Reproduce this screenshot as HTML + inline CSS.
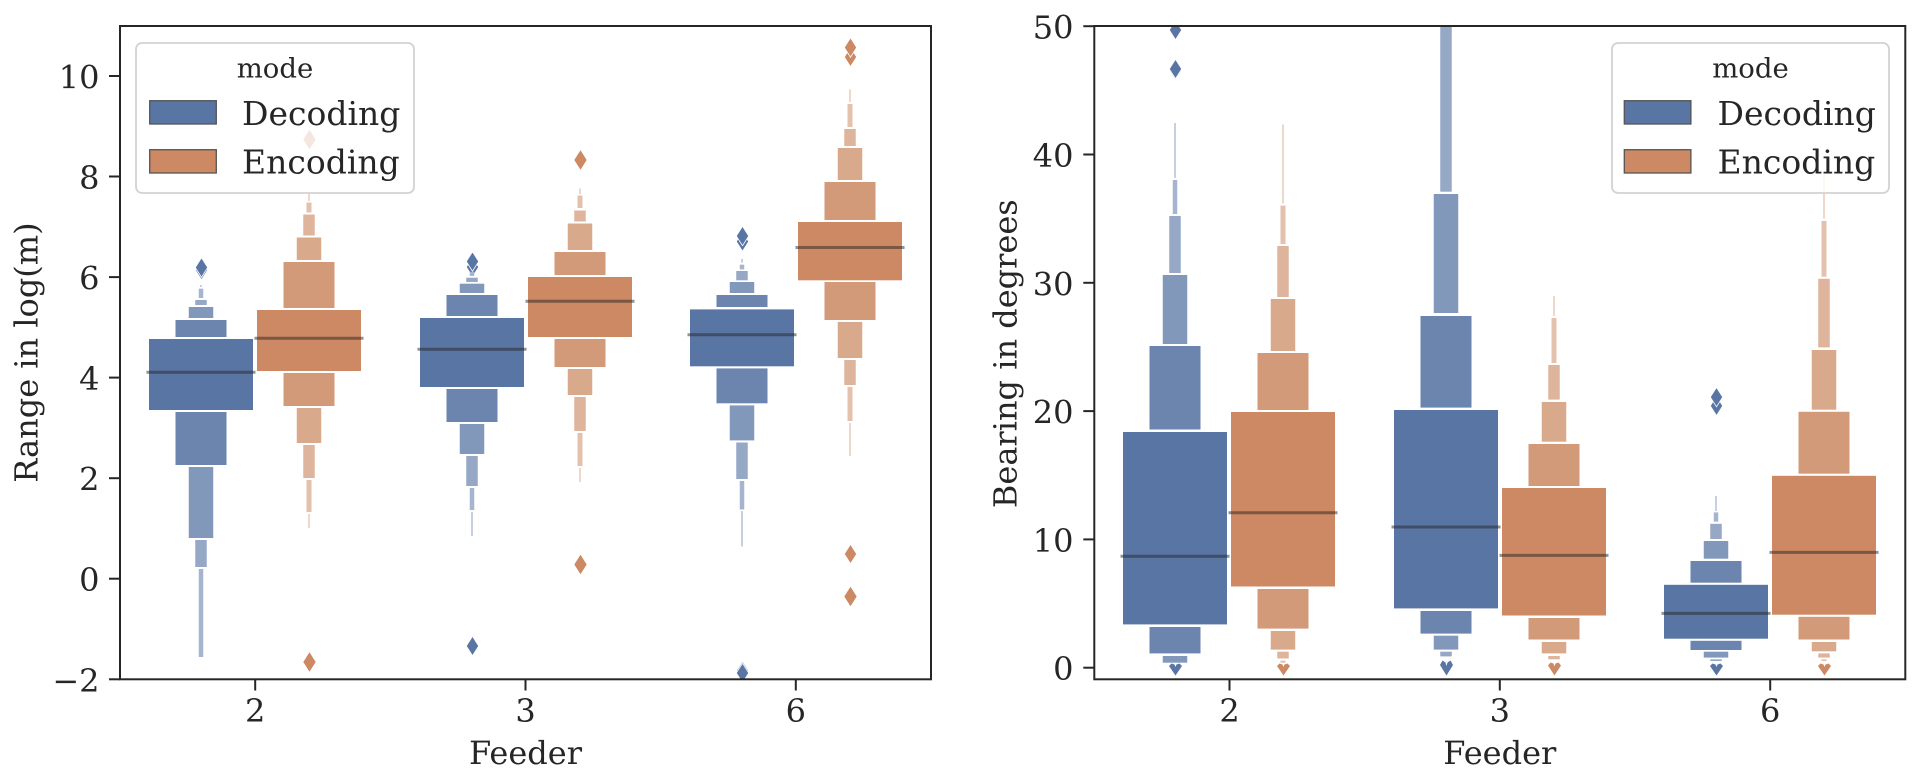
<!DOCTYPE html>
<html><head><meta charset="utf-8"><style>
html,body{margin:0;padding:0;background:#fff;}
svg{display:block;}
text{font-family:"DejaVu Serif","Liberation Serif",serif;fill:#262626;}
</style></head><body>
<svg width="1925" height="782" viewBox="0 0 1925 782" xmlns="http://www.w3.org/2000/svg">
<defs>
<clipPath id="cl"><rect x="120" y="26" width="811" height="653.3"/></clipPath>
<clipPath id="cr"><rect x="1094.3" y="26" width="811" height="653.3"/></clipPath>
</defs>
<rect width="1925" height="782" fill="#fff"/>

<!-- LEFT AXES DATA -->
<g clip-path="url(#cl)">
<!-- G1 F2 Decoding -->
<g>
<rect x="200.25" y="285" width="1.5" height="2" fill="#b3c0d8"/>
<rect x="198.75" y="288.7" width="4.5" height="9.3" fill="#a5b4cf"/>
<rect x="195.25" y="300" width="11.5" height="5" fill="#96a8c6"/>
<rect x="188.75" y="307" width="24.5" height="11" fill="#8298bb"/>
<rect x="175.5" y="320" width="51" height="17" fill="#6b85ae"/>
<rect x="149" y="339" width="104" height="71" fill="#5875a4"/>
<rect x="175.5" y="412" width="51" height="53" fill="#6b85ae"/>
<rect x="188.75" y="467" width="24.5" height="71" fill="#8298bb"/>
<rect x="195.25" y="540" width="11.5" height="27" fill="#96a8c6"/>
<rect x="198.75" y="569" width="4.5" height="88" fill="#a5b4cf"/>
<line x1="146.5" y1="372.3" x2="255.5" y2="372.3" stroke="rgba(38,38,38,0.5)" stroke-width="3"/>
<polygon points="201.5,260.3 207.7,270 201.5,279.7 195.3,270" fill="#5875a4" stroke="#fff" stroke-width="0.8"/>
<polygon points="201.5,257.8 207.7,267.5 201.5,277.2 195.3,267.5" fill="#5875a4" stroke="#fff" stroke-width="0.8"/>
</g>
<!-- G2 F2 Encoding -->
<g>
<polygon points="309.5,129.8 315.7,139.5 309.5,149.2 303.3,139.5" fill="#cd8963"/>
<rect x="308.25" y="192" width="1.5" height="9" fill="#e8cbbb"/>
<rect x="306.5" y="202.5" width="5" height="10" fill="#e4c1ac"/>
<rect x="303.25" y="214.5" width="11.5" height="21" fill="#dfb49c"/>
<rect x="296.75" y="237.5" width="24.5" height="22.5" fill="#d9a98c"/>
<rect x="283.5" y="262" width="51" height="46" fill="#d39a79"/>
<rect x="257" y="310" width="104" height="61" fill="#cd8963"/>
<rect x="283.5" y="373" width="51" height="33" fill="#d39a79"/>
<rect x="296.75" y="408" width="24.5" height="35" fill="#d9a98c"/>
<rect x="303.25" y="445" width="11.5" height="33" fill="#dfb49c"/>
<rect x="306.5" y="480" width="5" height="32" fill="#e4c1ac"/>
<rect x="308.25" y="514" width="1.5" height="14" fill="#e8cbbb"/>
<line x1="254.5" y1="338.3" x2="363.5" y2="338.3" stroke="rgba(38,38,38,0.5)" stroke-width="3"/>
<polygon points="309.5,652.3 315.7,662 309.5,671.7 303.3,662" fill="#cd8963"/>
</g>
<!-- G3 F3 Decoding -->
<g>
<polygon points="472.5,257.3 478.7,267 472.5,276.7 466.3,267" fill="#5875a4" stroke="#fff" stroke-width="0.8"/>
<polygon points="472.5,251.8 478.7,261.5 472.5,271.2 466.3,261.5" fill="#5875a4" stroke="#fff" stroke-width="0.8"/>
<rect x="469.75" y="271.7" width="4.5" height="4.3" fill="#a5b4cf"/>
<rect x="466.25" y="277.7" width="11.5" height="4.3" fill="#96a8c6"/>
<rect x="459.75" y="283.7" width="24.5" height="9.3" fill="#8298bb"/>
<rect x="446.5" y="295" width="51" height="21" fill="#6b85ae"/>
<rect x="420" y="318" width="104" height="69" fill="#5875a4"/>
<rect x="446.5" y="389" width="51" height="33" fill="#6b85ae"/>
<rect x="459.75" y="424" width="24.5" height="30" fill="#8298bb"/>
<rect x="466.25" y="456" width="11.5" height="30" fill="#96a8c6"/>
<rect x="469.75" y="488" width="4.5" height="22" fill="#a5b4cf"/>
<rect x="471.25" y="512" width="1.5" height="24" fill="#b3c0d8"/>
<line x1="417.5" y1="349.3" x2="526.5" y2="349.3" stroke="rgba(38,38,38,0.5)" stroke-width="3"/>
<polygon points="472.5,635.8 478.7,645.5 472.5,655.2 466.3,645.5" fill="#5875a4" stroke="#fff" stroke-width="0.8"/>
<polygon points="472.5,636.3 478.7,646 472.5,655.7 466.3,646" fill="#5875a4" stroke="#fff" stroke-width="0.8"/>
</g>
<!-- G4 F3 Encoding -->
<g>
<polygon points="580.5,150.3 586.7,160 580.5,169.7 574.3,160" fill="#cd8963"/>
<rect x="579.25" y="188.5" width="1.5" height="5.5" fill="#e8cbbb"/>
<rect x="577.5" y="195.5" width="5" height="12.5" fill="#e4c1ac"/>
<rect x="574.25" y="210.5" width="11.5" height="11" fill="#dfb49c"/>
<rect x="567.75" y="223.5" width="24.5" height="26.5" fill="#d9a98c"/>
<rect x="554.5" y="252" width="51" height="23" fill="#d39a79"/>
<rect x="528" y="277" width="104" height="60" fill="#cd8963"/>
<rect x="554.5" y="339" width="51" height="28" fill="#d39a79"/>
<rect x="567.75" y="369" width="24.5" height="26" fill="#d9a98c"/>
<rect x="574.25" y="397" width="11.5" height="34" fill="#dfb49c"/>
<rect x="577.5" y="433" width="5" height="33" fill="#e4c1ac"/>
<rect x="579.25" y="468" width="1.5" height="14" fill="#e8cbbb"/>
<line x1="525.5" y1="301.3" x2="634.5" y2="301.3" stroke="rgba(38,38,38,0.5)" stroke-width="3"/>
<polygon points="580.5,554.8 586.7,564.5 580.5,574.2 574.3,564.5" fill="#cd8963"/>
</g>
<!-- G5 F6 Decoding -->
<g>
<polygon points="742.5,231.8 748.7,241.5 742.5,251.2 736.3,241.5" fill="#5875a4" stroke="#fff" stroke-width="0.8"/>
<polygon points="742.5,226.3 748.7,236 742.5,245.7 736.3,236" fill="#5875a4" stroke="#fff" stroke-width="0.8"/>
<rect x="741.25" y="259" width="1.5" height="3.6" fill="#b3c0d8"/>
<rect x="739.75" y="264.7" width="4.5" height="4.7" fill="#a5b4cf"/>
<rect x="736.25" y="271" width="11.5" height="9.3" fill="#96a8c6"/>
<rect x="729.75" y="282" width="24.5" height="11" fill="#8298bb"/>
<rect x="716.5" y="295" width="51" height="12" fill="#6b85ae"/>
<rect x="690" y="309.4" width="104" height="56.9" fill="#5875a4"/>
<rect x="716.5" y="368.4" width="51" height="34.9" fill="#6b85ae"/>
<rect x="729.75" y="405.4" width="24.5" height="35" fill="#8298bb"/>
<rect x="736.25" y="442.5" width="11.5" height="36.5" fill="#96a8c6"/>
<rect x="739.75" y="481" width="4.5" height="28.5" fill="#a5b4cf"/>
<rect x="741.25" y="511" width="1.5" height="35.5" fill="#b3c0d8"/>
<line x1="687.5" y1="334.7" x2="796.5" y2="334.7" stroke="rgba(38,38,38,0.5)" stroke-width="3"/>
<polygon points="742.5,661.3 748.7,671 742.5,680.7 736.3,671" fill="#5875a4" stroke="#fff" stroke-width="0.8"/>
<polygon points="742.5,663.3 748.7,673 742.5,682.7 736.3,673" fill="#5875a4" stroke="#fff" stroke-width="0.8"/>
</g>
<!-- G6 F6 Encoding -->
<g>
<polygon points="850.5,47.3 856.7,57 850.5,66.7 844.3,57" fill="#cd8963" stroke="#fff" stroke-width="0.8"/>
<polygon points="850.5,37.8 856.7,47.5 850.5,57.2 844.3,47.5" fill="#cd8963" stroke="#fff" stroke-width="0.8"/>
<rect x="849.25" y="89.5" width="1.5" height="12.5" fill="#e8cbbb"/>
<rect x="847.5" y="104" width="5" height="23" fill="#e4c1ac"/>
<rect x="844.25" y="129" width="11.5" height="17" fill="#dfb49c"/>
<rect x="837.75" y="148" width="24.5" height="32" fill="#d9a98c"/>
<rect x="824.5" y="182" width="51" height="38" fill="#d39a79"/>
<rect x="798" y="222" width="104" height="58.3" fill="#cd8963"/>
<rect x="824.5" y="282" width="51" height="38" fill="#d39a79"/>
<rect x="837.75" y="322" width="24.5" height="36" fill="#d9a98c"/>
<rect x="844.25" y="360" width="11.5" height="25" fill="#dfb49c"/>
<rect x="847.5" y="387" width="5" height="34" fill="#e4c1ac"/>
<rect x="849.25" y="423" width="1.5" height="33" fill="#e8cbbb"/>
<line x1="795.5" y1="247.5" x2="904.5" y2="247.5" stroke="rgba(38,38,38,0.5)" stroke-width="3"/>
<polygon points="850.5,543.3 856.7,553 850.5,562.7 844.3,553" fill="#cd8963" stroke="#fff" stroke-width="0.8"/>
<polygon points="850.5,544.3 856.7,554 850.5,563.7 844.3,554" fill="#cd8963" stroke="#fff" stroke-width="0.8"/>
<polygon points="850.5,586.8 856.7,596.5 850.5,606.2 844.3,596.5" fill="#cd8963"/>
</g>
</g>

<!-- RIGHT AXES DATA -->
<g clip-path="url(#cr)">
<!-- G7 F2 Decoding -->
<g>
<polygon points="1175.5,20.3 1181.7,30 1175.5,39.7 1169.3,30" fill="#5875a4" stroke="#fff" stroke-width="0.8"/>
<polygon points="1175.5,60.8 1181.7,70.5 1175.5,80.2 1169.3,70.5" fill="#5875a4" stroke="#fff" stroke-width="0.8"/>
<polygon points="1175.5,59.3 1181.7,69 1175.5,78.7 1169.3,69" fill="#5875a4" stroke="#fff" stroke-width="0.8"/>
<rect x="1174.25" y="123" width="1.5" height="55" fill="#b3c0d8"/>
<rect x="1172.75" y="180" width="4.5" height="34" fill="#a5b4cf"/>
<rect x="1169.25" y="216" width="11.5" height="57" fill="#96a8c6"/>
<rect x="1162.75" y="275" width="24.5" height="69" fill="#8298bb"/>
<rect x="1149.5" y="346" width="51" height="83.5" fill="#6b85ae"/>
<rect x="1123" y="432" width="104" height="192.4" fill="#5875a4"/>
<rect x="1149.5" y="627" width="51" height="26.4" fill="#6b85ae"/>
<rect x="1162.75" y="656" width="24.5" height="6.7" fill="#8298bb"/>
<line x1="1120.5" y1="556.2" x2="1229.5" y2="556.2" stroke="rgba(38,38,38,0.5)" stroke-width="3"/>
<polygon points="1169,666 1171.5,663.5 1174.5,664.5 1175.5,667 1176.5,664.5 1179.5,663.5 1182,666 1175.5,675.5" fill="#5875a4"/>
</g>
<!-- G8 F2 Encoding -->
<g>
<rect x="1282.25" y="124.4" width="1.5" height="79.1" fill="#e8cbbb"/>
<rect x="1280.5" y="205.6" width="5" height="38.4" fill="#e4c1ac"/>
<rect x="1277.25" y="246" width="11.5" height="51" fill="#dfb49c"/>
<rect x="1270.75" y="299" width="24.5" height="52" fill="#d9a98c"/>
<rect x="1257.5" y="353" width="51" height="57" fill="#d39a79"/>
<rect x="1231" y="412" width="104" height="174.5" fill="#cd8963"/>
<rect x="1257.5" y="589" width="51" height="39.6" fill="#d39a79"/>
<rect x="1270.75" y="631" width="24.5" height="18.6" fill="#d9a98c"/>
<rect x="1277.25" y="651.7" width="11.5" height="6.8" fill="#dfb49c"/>
<rect x="1280.5" y="660.6" width="5" height="2.1" fill="#e4c1ac"/>
<line x1="1228.5" y1="512.8" x2="1337.5" y2="512.8" stroke="rgba(38,38,38,0.5)" stroke-width="3"/>
<polygon points="1277,666 1279.5,663.5 1282.5,664.5 1283.5,667 1284.5,664.5 1287.5,663.5 1290,666 1283.5,675.5" fill="#cd8963"/>
</g>
<!-- G9 F3 Decoding -->
<g>
<rect x="1440.25" y="20" width="11.5" height="171.7" fill="#96a8c6"/>
<rect x="1433.75" y="194" width="24.5" height="119" fill="#8298bb"/>
<rect x="1420.5" y="316" width="51" height="91.6" fill="#6b85ae"/>
<rect x="1394" y="410" width="104" height="198.4" fill="#5875a4"/>
<rect x="1420.5" y="611" width="51" height="22.6" fill="#6b85ae"/>
<rect x="1433.75" y="635.7" width="24.5" height="13.9" fill="#8298bb"/>
<rect x="1440.25" y="651.7" width="11.5" height="4.7" fill="#96a8c6"/>
<line x1="1391.5" y1="527" x2="1500.5" y2="527" stroke="rgba(38,38,38,0.5)" stroke-width="3"/>
<polygon points="1440,665 1442.5,660.5 1445.5,662.5 1446.5,666 1447.5,662.5 1450.5,660.5 1453,665 1446.5,675.5" fill="#5875a4"/>
</g>
<!-- G10 F3 Encoding -->
<g>
<rect x="1553.25" y="296" width="1.5" height="20" fill="#e8cbbb"/>
<rect x="1551.5" y="318" width="5" height="45" fill="#e4c1ac"/>
<rect x="1548.25" y="365" width="11.5" height="34.6" fill="#dfb49c"/>
<rect x="1541.75" y="402" width="24.5" height="39.7" fill="#d9a98c"/>
<rect x="1528.5" y="444" width="51" height="42" fill="#d39a79"/>
<rect x="1502" y="488" width="104" height="127.5" fill="#cd8963"/>
<rect x="1528.5" y="618" width="51" height="21.5" fill="#d39a79"/>
<rect x="1541.75" y="642" width="24.5" height="11.4" fill="#d9a98c"/>
<rect x="1548.25" y="656" width="11.5" height="3.3" fill="#dfb49c"/>
<line x1="1499.5" y1="555.4" x2="1608.5" y2="555.4" stroke="rgba(38,38,38,0.5)" stroke-width="3"/>
<polygon points="1548,665.5 1550.5,662.5 1553.5,663.5 1554.5,666.5 1555.5,663.5 1558.5,662.5 1561,665.5 1554.5,675.5" fill="#cd8963"/>
</g>
<!-- G11 F6 Decoding -->
<g>
<polygon points="1716.5,396.2 1722.7,405.9 1716.5,415.6 1710.3,405.9" fill="#5875a4" stroke="#fff" stroke-width="0.8"/>
<polygon points="1716.5,387.4 1722.7,397.1 1716.5,406.8 1710.3,397.1" fill="#5875a4" stroke="#fff" stroke-width="0.8"/>
<rect x="1715.25" y="496" width="1.5" height="15" fill="#b3c0d8"/>
<rect x="1713.75" y="512.4" width="4.5" height="9.3" fill="#a5b4cf"/>
<rect x="1710.25" y="523.8" width="11.5" height="15.2" fill="#96a8c6"/>
<rect x="1703.75" y="541" width="24.5" height="17.7" fill="#8298bb"/>
<rect x="1690.5" y="561" width="51" height="21.7" fill="#6b85ae"/>
<rect x="1664" y="584.8" width="104" height="53.9" fill="#5875a4"/>
<rect x="1690.5" y="640.8" width="51" height="9.2" fill="#6b85ae"/>
<rect x="1703.75" y="651.7" width="24.5" height="5.9" fill="#8298bb"/>
<rect x="1710.25" y="659.3" width="11.5" height="1.7" fill="#96a8c6"/>
<line x1="1661.5" y1="613.4" x2="1770.5" y2="613.4" stroke="rgba(38,38,38,0.5)" stroke-width="3"/>
<polygon points="1710,666 1712.5,663.5 1715.5,664.5 1716.5,667 1717.5,664.5 1720.5,663.5 1723,666 1716.5,675.5" fill="#5875a4"/>
</g>
<!-- G12 F6 Encoding -->
<g>
<rect x="1823.25" y="173.6" width="1.5" height="45.1" fill="#e8cbbb"/>
<rect x="1821.5" y="221" width="5" height="55.7" fill="#e4c1ac"/>
<rect x="1818.25" y="278.8" width="11.5" height="68.6" fill="#dfb49c"/>
<rect x="1811.75" y="350" width="24.5" height="59.7" fill="#d9a98c"/>
<rect x="1798.5" y="411.8" width="51" height="61.9" fill="#d39a79"/>
<rect x="1772" y="475.8" width="104" height="138.9" fill="#cd8963"/>
<rect x="1798.5" y="616.8" width="51" height="22.7" fill="#d39a79"/>
<rect x="1811.75" y="642" width="24.5" height="9.3" fill="#d9a98c"/>
<rect x="1818.25" y="653.4" width="11.5" height="4.2" fill="#dfb49c"/>
<rect x="1821.5" y="659.3" width="5" height="1.7" fill="#e4c1ac"/>
<line x1="1769.5" y1="552.4" x2="1878.5" y2="552.4" stroke="rgba(38,38,38,0.5)" stroke-width="3"/>
<polygon points="1818,666 1820.5,663.5 1823.5,664.5 1824.5,667 1825.5,664.5 1828.5,663.5 1831,666 1824.5,675.5" fill="#cd8963"/>
</g>
</g>

<!-- LEFT AXES FRAME -->
<rect x="120" y="26" width="811" height="653.3" fill="none" stroke="#262626" stroke-width="2"/>
<g stroke="#262626" stroke-width="2">
<line x1="109" y1="679.3" x2="120" y2="679.3"/>
<line x1="109" y1="578.7" x2="120" y2="578.7"/>
<line x1="109" y1="478.2" x2="120" y2="478.2"/>
<line x1="109" y1="377.6" x2="120" y2="377.6"/>
<line x1="109" y1="277.1" x2="120" y2="277.1"/>
<line x1="109" y1="176.5" x2="120" y2="176.5"/>
<line x1="109" y1="76" x2="120" y2="76"/>
<line x1="255.2" y1="679.3" x2="255.2" y2="690.5"/>
<line x1="525.5" y1="679.3" x2="525.5" y2="690.5"/>
<line x1="795.8" y1="679.3" x2="795.8" y2="690.5"/>
</g>
<g font-size="32" text-anchor="end">
<text x="99.5" y="691.8">−2</text>
<text x="99.5" y="591.2">0</text>
<text x="99.5" y="490.7">2</text>
<text x="99.5" y="390.1">4</text>
<text x="99.5" y="289.6">6</text>
<text x="99.5" y="189">8</text>
<text x="99.5" y="88.5">10</text>
</g>
<g font-size="32" text-anchor="middle">
<text x="255.2" y="722">2</text>
<text x="525.5" y="722">3</text>
<text x="795.8" y="722">6</text>
<text x="525.5" y="764">Feeder</text>
<text transform="translate(37.5,352.6) rotate(-90)">Range in log(m)</text>
</g>

<!-- RIGHT AXES FRAME -->
<rect x="1094.3" y="26" width="811" height="653.3" fill="none" stroke="#262626" stroke-width="2"/>
<g stroke="#262626" stroke-width="2">
<line x1="1083.3" y1="667.7" x2="1094.3" y2="667.7"/>
<line x1="1083.3" y1="539.4" x2="1094.3" y2="539.4"/>
<line x1="1083.3" y1="411.1" x2="1094.3" y2="411.1"/>
<line x1="1083.3" y1="282.8" x2="1094.3" y2="282.8"/>
<line x1="1083.3" y1="154.5" x2="1094.3" y2="154.5"/>
<line x1="1083.3" y1="26.2" x2="1094.3" y2="26.2"/>
<line x1="1229.5" y1="679.3" x2="1229.5" y2="690.5"/>
<line x1="1499.8" y1="679.3" x2="1499.8" y2="690.5"/>
<line x1="1770.2" y1="679.3" x2="1770.2" y2="690.5"/>
</g>
<g font-size="32" text-anchor="end">
<text x="1073.5" y="680.2">0</text>
<text x="1073.5" y="551.9">10</text>
<text x="1073.5" y="423.6">20</text>
<text x="1073.5" y="295.3">30</text>
<text x="1073.5" y="167">40</text>
<text x="1073.5" y="38.7">50</text>
</g>
<g font-size="32" text-anchor="middle">
<text x="1229.5" y="722">2</text>
<text x="1499.8" y="722">3</text>
<text x="1770.2" y="722">6</text>
<text x="1499.8" y="764">Feeder</text>
<text transform="translate(1016.5,353.7) rotate(-90)">Bearing in degrees</text>
</g>

<!-- LEGENDS -->
<g>
<rect x="136" y="43" width="278" height="150" rx="6" ry="6" fill="rgba(255,255,255,0.8)" stroke="#d2d2d2" stroke-width="1.8"/>
<text x="275" y="77.5" font-size="27.5" text-anchor="middle">mode</text>
<rect x="149.7" y="100.7" width="66.6" height="23.3" fill="#5875a4" stroke="#555" stroke-width="1.3"/>
<rect x="149.7" y="149.7" width="66.6" height="23.3" fill="#cd8963" stroke="#555" stroke-width="1.3"/>
<text x="242" y="125" font-size="33">Decoding</text>
<text x="242" y="173.5" font-size="33">Encoding</text>
</g>
<g>
<rect x="1612" y="43" width="277" height="150" rx="6" ry="6" fill="rgba(255,255,255,0.8)" stroke="#d2d2d2" stroke-width="1.8"/>
<text x="1750.5" y="77.5" font-size="27.5" text-anchor="middle">mode</text>
<rect x="1624.3" y="100.7" width="66.6" height="23.3" fill="#5875a4" stroke="#555" stroke-width="1.3"/>
<rect x="1624.3" y="149.7" width="66.6" height="23.3" fill="#cd8963" stroke="#555" stroke-width="1.3"/>
<text x="1717.5" y="125" font-size="33">Decoding</text>
<text x="1717.5" y="173.5" font-size="33">Encoding</text>
</g>
</svg>
</body></html>
